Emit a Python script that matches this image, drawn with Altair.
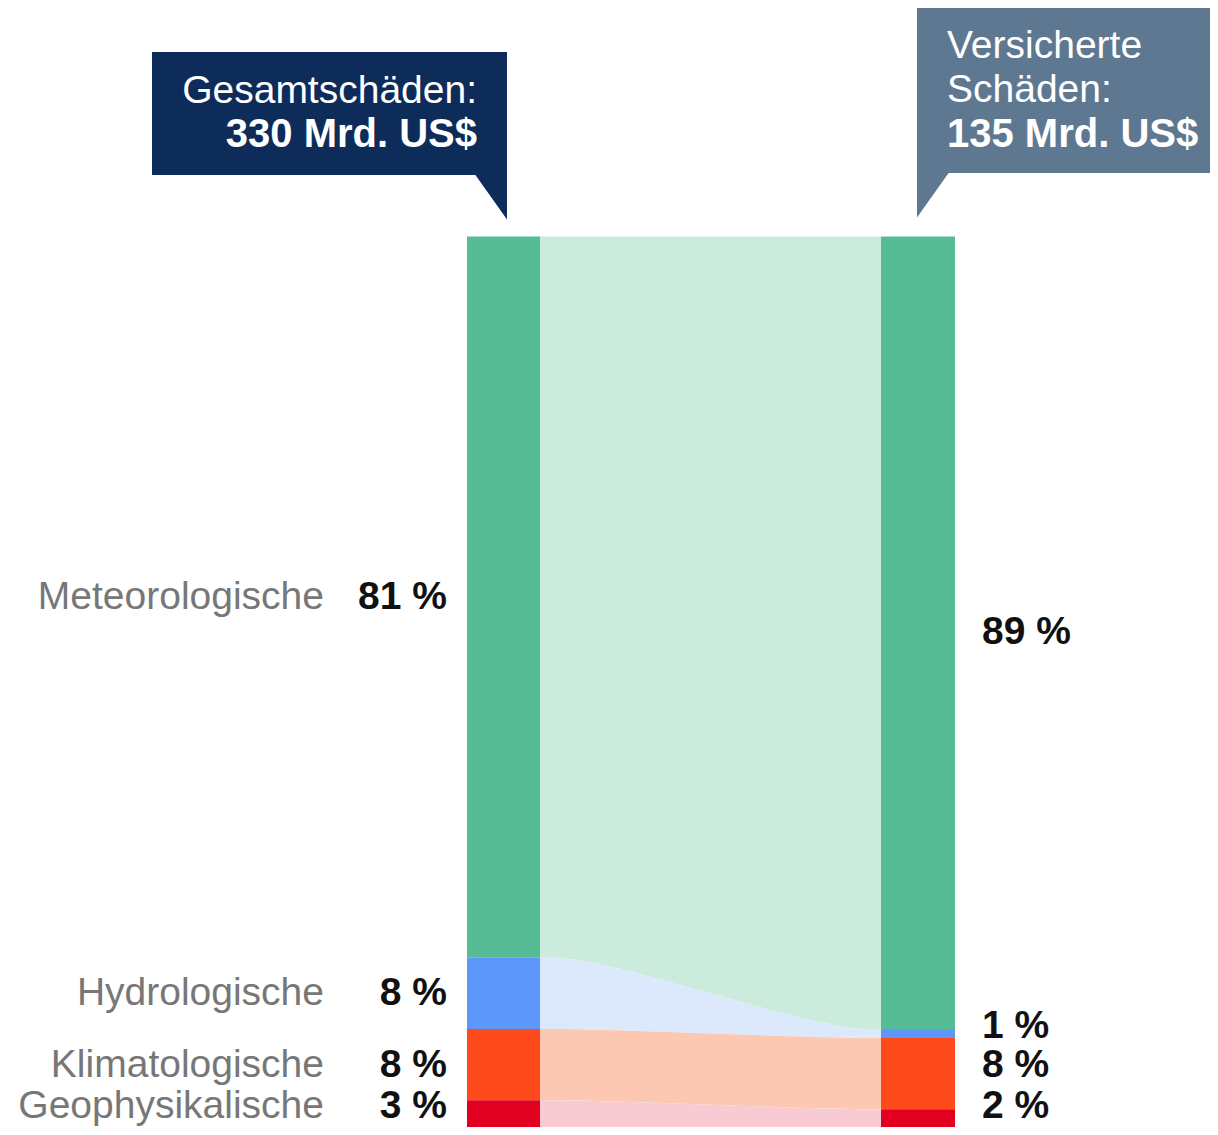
import altair as alt
import pandas as pd

# ---------------- data ----------------
CATEGORIES = ["Meteorologische", "Hydrologische", "Klimatologische", "Geophysikalische"]
TOTAL_SHARE = [81, 8, 8, 3]      # % der Gesamtschäden
INSURED_SHARE = [89, 1, 8, 2]    # % der versicherten Schäden
TOTAL_LABELS = ["81 %", "8 %", "8 %", "3 %"]
INSURED_LABELS = ["89 %", "1 %", "8 %", "2 %"]
CALLOUT_TOTAL = ["Gesamtschäden:", "330 Mrd. US$"]
CALLOUT_INSURED = ["Versicherte", "Schäden:", "135 Mrd. US$"]

# ---------------- style / layout ----------------
BAR_COLORS = ["#55BC95", "#5C97F9", "#FF4A1B", "#E10020"]
FLOW_COLORS = ["#CBEBDD", "#DCE9FC", "#FDC8B2", "#F8CBD4"]
NAVY = "#0D2C5A"
SLATE = "#5F7891"
FONT = "Liberation Sans"
FS = 39
W, H = 1202, 1119
LEFT_BAR = (459, 532)
RIGHT_BAR = (873, 947)
Y_RANGE = [228.5, 1119]
CTRL = (0.15, 0.85)
LEFT_DY = [0, 0, 0, -8]
RIGHT_DY = [-1, -7, -9, -12]


def cumulate(shares):
    starts, s = [], 0
    for v in shares:
        starts.append(s)
        s += v
    ends = [a + b for a, b in zip(starts, shares)]
    return starts, ends


ts, te = cumulate(TOTAL_SHARE)
ins, ine = cumulate(INSURED_SHARE)

xscale = alt.Scale(domain=[0, W], range=[0, W], nice=False, zero=False)
yscale = alt.Scale(domain=[0, 100], range=Y_RANGE, nice=False, zero=False)

# bars
bar_rows = []
for i, c in enumerate(CATEGORIES):
    bar_rows.append({"cat": c, "x0": LEFT_BAR[0], "x1": LEFT_BAR[1], "y0": ts[i], "y1": te[i]})
    bar_rows.append({"cat": c, "x0": RIGHT_BAR[0], "x1": RIGHT_BAR[1], "y0": ins[i], "y1": ine[i]})
bars_df = pd.DataFrame(bar_rows)

# flows (band from left segment to right segment, smoothed by the library's basis curve)
gap = RIGHT_BAR[0] - LEFT_BAR[1]
xs = [LEFT_BAR[1], LEFT_BAR[1] + CTRL[0] * gap, LEFT_BAR[1] + CTRL[1] * gap, RIGHT_BAR[0]]
flow_rows = []
for i, c in enumerate(CATEGORIES):
    tops = [ts[i], ts[i], ins[i], ins[i]]
    bots = [te[i], te[i], ine[i], ine[i]]
    for k in range(4):
        flow_rows.append({"flow": c, "x": xs[k], "y": tops[k], "y2": bots[k]})
flows_df = pd.DataFrame(flow_rows)

flows = alt.Chart(flows_df).mark_area(interpolate="basis", opacity=1).encode(
    x=alt.X("x:Q", scale=xscale, axis=None),
    y=alt.Y("y:Q", scale=yscale, axis=None, stack=None),
    y2="y2:Q",
    color=alt.Color("flow:N", scale=alt.Scale(domain=CATEGORIES, range=FLOW_COLORS), legend=None),
    detail="flow:N",
)

bars = alt.Chart(bars_df).mark_rect().encode(
    x=alt.X("x0:Q", scale=xscale, axis=None),
    x2="x1:Q",
    y=alt.Y("y0:Q", scale=yscale, axis=None),
    y2="y1:Q",
    color=alt.Color("cat:N", scale=alt.Scale(domain=CATEGORIES, range=BAR_COLORS), legend=None),
)

label_layers = []
for i in range(4):
    d = pd.DataFrame({
        "cat": [CATEGORIES[i]],
        "pct": [TOTAL_LABELS[i]],
        "mid": [(ts[i] + te[i]) / 2],
    })
    label_layers.append(
        alt.Chart(d).mark_text(
            align="right", baseline="middle", font=FONT, fontSize=FS, color="#777777", dy=LEFT_DY[i]
        ).encode(x=alt.value(316), y=alt.Y("mid:Q", scale=yscale, axis=None), text="cat:N")
    )
    label_layers.append(
        alt.Chart(d).mark_text(
            align="right", baseline="middle", font=FONT, fontSize=FS, fontWeight="bold",
            color="#111111", dy=LEFT_DY[i]
        ).encode(x=alt.value(439), y=alt.Y("mid:Q", scale=yscale, axis=None), text="pct:N")
    )
    r = pd.DataFrame({"pct": [INSURED_LABELS[i]], "mid": [(ins[i] + ine[i]) / 2]})
    label_layers.append(
        alt.Chart(r).mark_text(
            align="left", baseline="middle", font=FONT, fontSize=FS, fontWeight="bold",
            color="#111111", dy=RIGHT_DY[i]
        ).encode(x=alt.value(974), y=alt.Y("mid:Q", scale=yscale, axis=None), text="pct:N")
    )

# callouts
one = pd.DataFrame({"a": [0]})
box_left = alt.Chart(one).mark_rect(color=NAVY).encode(
    x=alt.value(144), x2=alt.value(499), y=alt.value(44), y2=alt.value(167)
)
tri_left = alt.Chart(one).mark_point(
    shape="M -1.42 0 L 0 0 L 0 2 Z", filled=True, opacity=1, color=NAVY, size=2025, strokeWidth=0
).encode(x=alt.value(499), y=alt.value(166.5))
box_right = alt.Chart(one).mark_rect(color=SLATE).encode(
    x=alt.value(909), x2=alt.value(W + 10), y=alt.value(-1), y2=alt.value(165)
)
tri_right = alt.Chart(one).mark_point(
    shape="M 0 0 L 1.42 0 L 0 2 Z", filled=True, opacity=1, color=SLATE, size=2025, strokeWidth=0
).encode(x=alt.value(909), y=alt.value(164.5))

t_left1 = alt.Chart(pd.DataFrame({"t": [CALLOUT_TOTAL[0]]})).mark_text(
    align="right", baseline="alphabetic", font=FONT, fontSize=FS, color="white"
).encode(x=alt.value(469), y=alt.value(95), text="t:N")
t_left2 = alt.Chart(pd.DataFrame({"t": [CALLOUT_TOTAL[1]]})).mark_text(
    align="right", baseline="alphabetic", font=FONT, fontSize=40, fontWeight="bold", color="white"
).encode(x=alt.value(469), y=alt.value(139), text="t:N")

t_right1 = alt.Chart(pd.DataFrame({"t": [CALLOUT_INSURED[0]]})).mark_text(
    align="left", baseline="alphabetic", font=FONT, fontSize=FS, color="white"
).encode(x=alt.value(939), y=alt.value(50), text="t:N")
t_right2 = alt.Chart(pd.DataFrame({"t": [CALLOUT_INSURED[1]]})).mark_text(
    align="left", baseline="alphabetic", font=FONT, fontSize=FS, color="white"
).encode(x=alt.value(939), y=alt.value(94), text="t:N")
t_right3 = alt.Chart(pd.DataFrame({"t": [CALLOUT_INSURED[2]]})).mark_text(
    align="left", baseline="alphabetic", font=FONT, fontSize=40, fontWeight="bold", color="white"
).encode(x=alt.value(939), y=alt.value(139), text="t:N")

chart = alt.layer(
    flows, bars, *label_layers,
    box_left, tri_left, box_right, tri_right,
    t_left1, t_left2, t_right1, t_right2, t_right3,
).resolve_scale(color="independent").properties(
    width=W, height=H, padding=0, autosize="none", background="white"
).configure_view(stroke=None)

chart.save("out.html", embed_options={"renderer": "svg", "actions": False})
